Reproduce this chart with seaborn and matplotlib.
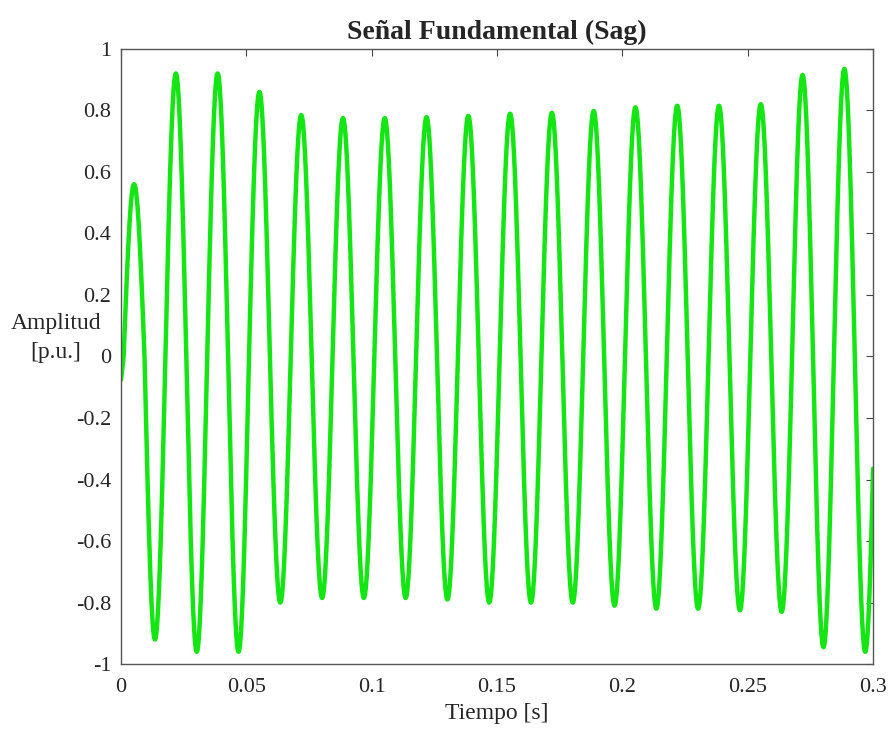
import numpy as np
import pandas as pd
import matplotlib
matplotlib.use("Agg")
import matplotlib.pyplot as plt
import seaborn as sns

# valores (picos y valles de cada semiciclo)
FREQ = 60.0                 # Hz
T_FIRST_PEAK = 0.0052       # s
START_AMP = 0.2             # semiciclo negativo inicial (transitorio)
PEAKS = [0.56, 0.92, 0.92, 0.86, 0.785, 0.775, 0.775, 0.778, 0.782,
         0.789, 0.792, 0.798, 0.81, 0.815, 0.815, 0.82, 0.915, 0.935]
TROUGHS = [-0.92, -0.96, -0.96, -0.80, -0.785, -0.785, -0.785, -0.79, -0.80,
           -0.80, -0.80, -0.81, -0.82, -0.82, -0.825, -0.83, -0.945, -0.96]

X_TICKS = [0, 0.05, 0.1, 0.15, 0.2, 0.25, 0.3]
Y_TICKS = [-1, -0.8, -0.6, -0.4, -0.2, 0, 0.2, 0.4, 0.6, 0.8, 1]

# amplitud por semiciclo: inicial, pico, valle, pico, valle...
amps = [START_AMP]
for p, v in zip(PEAKS, TROUGHS):
    amps += [abs(p), abs(v)]
amps = np.array(amps)

t = np.linspace(0, 0.3, 4001)
carrier = np.cos(2 * np.pi * FREQ * (t - T_FIRST_PEAK))
idx = np.floor((t - (T_FIRST_PEAK - 1 / (4 * FREQ))) * 2 * FREQ).astype(int) + 1
idx = np.clip(idx, 0, len(amps) - 1)
df = pd.DataFrame({"t": t, "y": amps[idx] * carrier})

sns.set_style("white")
plt.rcParams['font.family'] = ['Liberation Serif', 'DejaVu Serif']
plt.rcParams['axes.unicode_minus'] = False

fig = plt.figure(figsize=(8.9, 7.29), dpi=100)
ax = fig.add_axes([0.136, 0.089, 0.845, 0.844])

sns.lineplot(data=df, x="t", y="y", ax=ax, color="#14e614", linewidth=3.2)

ax.set_xlim(0, 0.3)
ax.set_ylim(-1, 1)
ax.set_xticks(X_TICKS)
ax.set_yticks(Y_TICKS)
ax.set_xticklabels([f"{v:g}" for v in X_TICKS])
ax.set_yticklabels([f"{v:g}" for v in Y_TICKS])
ax.tick_params(direction="in", length=5, width=0.8, colors="#444444",
               labelcolor="#262626", labelsize=16, top=True, right=True)
ax.tick_params(axis="x", pad=10)
ax.tick_params(axis="y", pad=7)
for s in ax.spines.values():
    s.set_color("#555555")
    s.set_linewidth(1.0)

ax.set_title("Señal Fundamental (Sag)", fontsize=20, fontweight="bold", pad=7)
ax.set_xlabel("Tiempo [s]", fontsize=17, color="#262626", labelpad=4)
ax.set_ylabel("Amplitud\n[p.u.]", fontsize=17, color="#262626", rotation=0,
              ha="center", va="center", multialignment="center", linespacing=1.45)
ax.yaxis.set_label_coords(-0.087, 0.53)

fig.savefig("out.png", dpi=100)
